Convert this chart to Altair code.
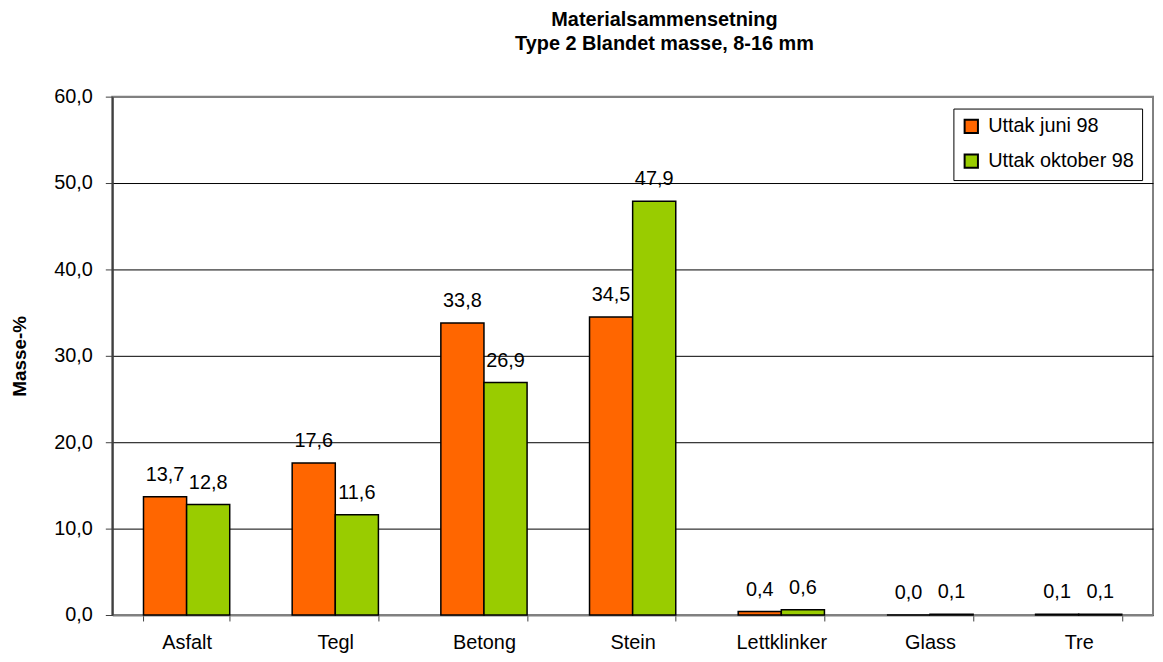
import altair as alt
import pandas as pd

categories = ["Asfalt", "Tegl", "Betong", "Stein", "Lettklinker", "Glass", "Tre"]
series = ["Uttak juni 98", "Uttak oktober 98"]
juni = [13.7, 17.6, 33.8, 34.5, 0.4, 0.0, 0.1]
oktober = [12.8, 11.6, 26.9, 47.9, 0.6, 0.1, 0.1]
colors = ["#FF6600", "#99CC00"]
y_ticks = [0, 10, 20, 30, 40, 50, 60]

rows = []
for s, vals in zip(series, [juni, oktober]):
    for c, v in zip(categories, vals):
        rows.append({"Materiale": c, "Serie": s, "Verdi": v,
                     "Etikett": f"{v:.1f}".replace(".", ",")})
df = pd.DataFrame(rows)

FONT = "Liberation Sans"
FS = 20

x = alt.X("Materiale:N", sort=categories, title=None,
          scale=alt.Scale(paddingInner=0.42, paddingOuter=0.21),
          axis=alt.Axis(labelAngle=0, tickBand="extent", labelFontSize=FS,
                        labelFont=FONT, labelColor="black", labelPadding=12,
                        tickSize=6, tickColor="#404040", domainColor="#808080",
                        domainWidth=2, grid=False))
xo = alt.XOffset("Serie:N", sort=series)
y = alt.Y("Verdi:Q", title="Masse-%",
          scale=alt.Scale(domain=[0, 60], nice=False),
          axis=alt.Axis(values=y_ticks,
                        labelExpr="replace(format(datum.value, '.1f'), '.', ',')",
                        labelFontSize=FS, labelFont=FONT, labelColor="black",
                        labelPadding=13, tickSize=7, tickColor="#404040",
                        domainColor="#404040", domainWidth=2,
                        gridColor=alt.condition("datum.value == 60", alt.value("#808080"), alt.value("black")),
                        gridWidth=alt.condition("datum.value == 60", alt.value(2), alt.value(1)),
                        titleFont=FONT, titleFontSize=19, titleFontWeight="bold",
                        titleColor="black", titleAngle=270, titleX=-93, titleY=261,
                        titleAlign="center", titleBaseline="middle"))

bars = alt.Chart(df).mark_bar(stroke="black", strokeWidth=1.5).encode(
    x=x, xOffset=xo, y=y,
    color=alt.Color("Serie:N", sort=series,
                    scale=alt.Scale(domain=series, range=colors),
                    legend=alt.Legend(title=None, orient="none", legendX=847, legendY=12,
                                      symbolType="square", symbolSize=180,
                                      symbolStrokeColor="black", symbolStrokeWidth=2,
                                      labelFontSize=FS, labelFont=FONT, labelColor="black",
                                      labelOffset=7, rowPadding=13,
                                      strokeColor="black", fillColor="white",
                                      padding=8))
)

labels = alt.Chart(df).mark_text(baseline="alphabetic", dy=-16, fontSize=FS,
                                 font=FONT, color="black").encode(
    x=x, xOffset=xo, y=y, text="Etikett:N"
)

chart = alt.layer(bars, labels).properties(
    width=1048, height=522,
    autosize=alt.AutoSizeParams(type="none"),
    padding={"left": 105, "top": 87, "right": 2, "bottom": 37},
    title=alt.TitleParams(["Materialsammensetning", "Type 2 Blandet masse, 8-16 mm"],
                          font=FONT, fontSize=20, fontWeight="bold", color="black",
                          anchor="middle", dx=32, offset=33, lineHeight=24),
).configure_view(stroke="#808080", strokeWidth=2)

chart.save("out.html", embed_options={"renderer": "svg", "actions": False})
